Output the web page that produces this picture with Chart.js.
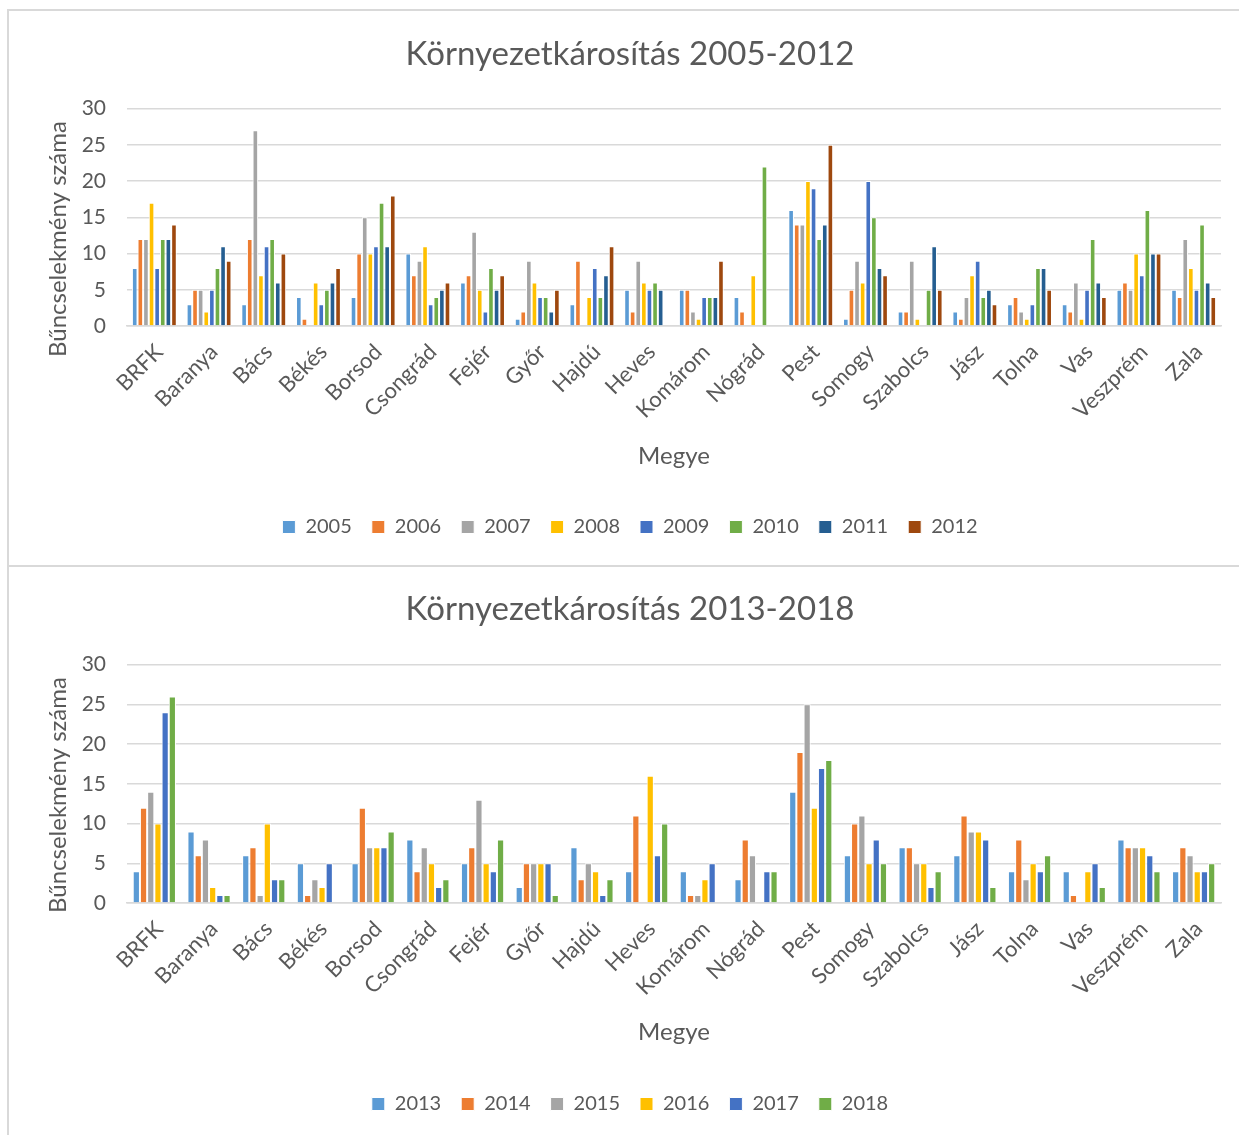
<!DOCTYPE html>
<html>
<head>
<meta charset="utf-8">
<script src="https://cdn.jsdelivr.net/npm/chart.js@4/dist/chart.umd.min.js"></script>
<style>
  body { margin: 0; background: #fff; overflow: hidden; }
  .panel { position: absolute; left: 7px; width: 1240px; border: 2px solid #d9d9d9; box-sizing: border-box; }
  #p1 { top: 9px; height: 558px; }
  #p2 { top: 565px; height: 580px; }
  canvas { position: absolute; }
  #c1 { left: 9px; top: 11px; }
  #c2 { left: 9px; top: 567px; }
</style>
</head>
<body>
<div class="panel" id="p1"></div>
<div class="panel" id="p2"></div>
<canvas id="c1" width="1242" height="554"></canvas>
<canvas id="c2" width="1242" height="568"></canvas>
<script>
// megyék
const megyek = ['BRFK', 'Baranya', 'Bács', 'Békés', 'Borsod', 'Csongrád', 'Fejér', 'Győr', 'Hajdú', 'Heves',
  'Komárom', 'Nógrád', 'Pest', 'Somogy', 'Szabolcs', 'Jász', 'Tolna', 'Vas', 'Veszprém', 'Zala']

// 2005-2012
const y2005 = [8, 3, 3, 4, 4, 10, 6, 1, 3, 5, 5, 4, 16, 1, 2, 2, 3, 3, 5, 5]
const y2006 = [12, 5, 12, 1, 10, 7, 7, 2, 9, 2, 5, 2, 14, 5, 2, 1, 4, 2, 6, 4]
const y2007 = [12, 5, 27, 0, 15, 9, 13, 9, 0, 9, 2, 0, 14, 9, 9, 4, 2, 6, 5, 12]
const y2008 = [17, 2, 7, 6, 10, 11, 5, 6, 4, 6, 1, 7, 20, 6, 1, 7, 1, 1, 10, 8]
const y2009 = [8, 5, 11, 3, 11, 3, 2, 4, 8, 5, 4, 0, 19, 20, 0, 9, 3, 5, 7, 5]
const y2010 = [12, 8, 12, 5, 17, 4, 8, 4, 4, 6, 4, 22, 12, 15, 5, 4, 8, 12, 16, 14]
const y2011 = [12, 11, 6, 6, 11, 5, 5, 2, 7, 5, 4, 0, 14, 8, 11, 5, 8, 6, 10, 6]
const y2012 = [14, 9, 10, 8, 18, 6, 7, 5, 11, 0, 9, 0, 25, 7, 5, 3, 5, 4, 10, 4]

// 2013-2018
const y2013 = [4, 9, 6, 5, 5, 8, 5, 2, 7, 4, 4, 3, 14, 6, 7, 6, 4, 4, 8, 4]
const y2014 = [12, 6, 7, 1, 12, 4, 7, 5, 3, 11, 1, 8, 19, 10, 7, 11, 8, 1, 7, 7]
const y2015 = [14, 8, 1, 3, 7, 7, 13, 5, 5, 0, 1, 6, 25, 11, 5, 9, 3, 0, 7, 6]
const y2016 = [10, 2, 10, 2, 7, 5, 5, 5, 4, 16, 3, 0, 12, 5, 5, 9, 5, 4, 7, 4]
const y2017 = [24, 1, 3, 5, 7, 2, 4, 5, 1, 6, 5, 4, 17, 8, 2, 8, 4, 5, 6, 4]
const y2018 = [26, 1, 3, 0, 9, 3, 8, 1, 3, 10, 0, 4, 18, 5, 4, 2, 6, 2, 4, 5]

const yTicks = [0, 5, 10, 15, 20, 25, 30]

const szin = ['#5B9BD5', '#ED7D31', '#A5A5A5', '#FFC000', '#4472C4', '#70AD47', '#255E91', '#9E480E']
const szurke = '#595959'
const betu = 'Lato, "Open Sans", sans-serif'

// függőleges tengelycím saját pluginnal (Excel kicsit lejjebb teszi)
const yCim = {
  id: 'yCim',
  afterDraw(chart, args, opts) {
    const ctx = chart.ctx
    ctx.save()
    ctx.translate(opts.x, opts.y)
    ctx.rotate(-Math.PI / 2)
    ctx.font = '24px ' + betu
    ctx.fillStyle = szurke
    ctx.textAlign = 'center'
    ctx.textBaseline = 'middle'
    ctx.fillText('Bűncselekmény száma', 0, 0)
    ctx.restore()
  }
}

function rajzol(canvasId, cim, evek, sorok, catPct, legendBottom, titleTop, titleBottom, megyePad) {
  const ctx = document.getElementById(canvasId).getContext('2d')
  return new Chart(ctx, {
    type: 'bar',
    data: {
      labels: megyek,
      datasets: evek.map((ev, i) => ({
        label: ev,
        data: sorok[i],
        backgroundColor: szin[i],
        borderColor: '#ffffff',
        borderWidth: 1,
        borderSkipped: 'bottom',
        barPercentage: 1,
        categoryPercentage: catPct
      }))
    },
    options: {
      responsive: false,
      animation: false,
      layout: { padding: { left: 0, right: 0, top: 0, bottom: legendBottom } },
      plugins: {
        title: {
          display: true,
          text: cim,
          color: szurke,
          font: { family: betu, size: 33, weight: 'normal' },
          padding: { top: titleTop, bottom: titleBottom }
        },
        legend: {
          position: 'bottom',
          labels: {
            color: szurke,
            font: { family: betu, size: 20 },
            boxWidth: 13,
            boxHeight: 13,
            padding: 20
          }
        },
        tooltip: { enabled: false },
        yCim: { x: 49, y: 228 }
      },
      scales: {
        x: {
          grid: { display: false },
          border: { color: '#d9d9d9', width: 1.5 },
          ticks: {
            color: szurke,
            font: { family: betu, size: 22 },
            minRotation: 45,
            maxRotation: 45,
            autoSkip: false,
            padding: 5,
            labelOffset: 5
          },
          title: {
            display: true,
            text: 'Megye',
            color: szurke,
            font: { family: betu, size: 24 },
            padding: { top: 0, bottom: megyePad }
          },
          afterFit(scale) { scale.height = 171 }
        },
        y: {
          min: 0,
          max: 30,
          afterBuildTicks(scale) { scale.ticks = yTicks.map(v => ({ value: v })) },
          grid: { color: '#d9d9d9', lineWidth: 1.5, drawTicks: false },
          border: { display: false },
          ticks: {
            color: szurke,
            font: { family: betu, size: 21 },
            padding: 21
          },
          afterFit(scale) { scale.width = 118 }
        },
        // üres jobb oldali hely, hogy a cím és a jelmagyarázat ott legyen, ahol az Excelben
        yR: {
          position: 'right',
          grid: { display: false },
          border: { display: false },
          ticks: { display: false },
          afterFit(scale) { scale.width = 30 }
        }
      }
    },
    plugins: [yCim]
  })
}

rajzol('c1', 'Környezetkárosítás 2005-2012',
  ['2005', '2006', '2007', '2008', '2009', '2010', '2011', '2012'],
  [y2005, y2006, y2007, y2008, y2009, y2010, y2011, y2012],
  0.82, 18, 24, 34, 26)

rajzol('c2', 'Környezetkárosítás 2013-2018',
  ['2013', '2014', '2015', '2016', '2017', '2018'],
  [y2013, y2014, y2015, y2016, y2017, y2018],
  0.79, 11, 23, 35, 27)
</script>
</body>
</html>
